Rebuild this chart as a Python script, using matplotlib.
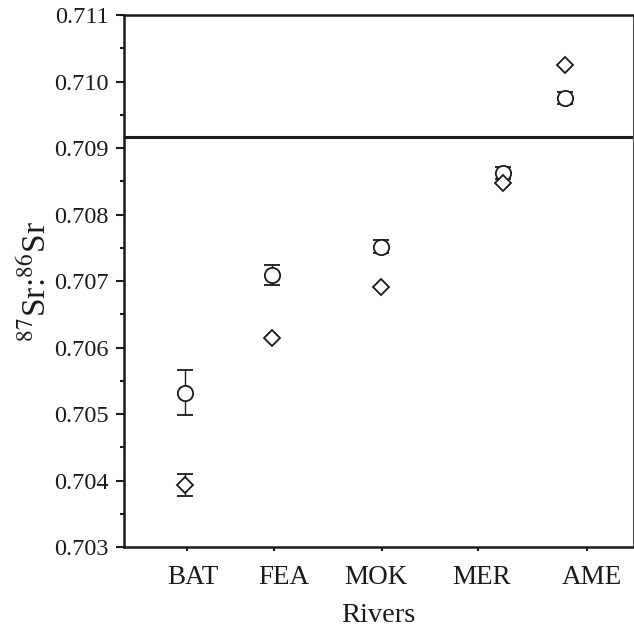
import matplotlib
matplotlib.use("Agg")
import matplotlib.pyplot as plt
from matplotlib.ticker import MultipleLocator, FixedLocator, NullFormatter

plt.rcParams['font.family'] = ['Liberation Serif', 'DejaVu Serif']
plt.rcParams['mathtext.fontset'] = 'stix'

rivers = ['BAT', 'FEA', 'MOK', 'MER', 'AME']
x_points = [0.61, 1.48, 2.57, 3.79, 4.41]
x_tickmarks = [0.63, 1.50, 2.58, 3.54, 4.63]
x_labelpos = [0.69, 1.60, 2.52, 3.58, 4.68]

circle_vals = [0.70532, 0.70709, 0.70752, 0.70863, 0.70976]
circle_err = [0.00034, 0.00015, 0.00010, 0.00009, 0.00009]
diamond_vals = [0.70393, 0.70615, 0.70691, 0.70847, 0.71025]
diamond_err = [0.00017, 0.0, 0.0, 0.0, 0.0]
seawater = 0.70917

fig = plt.figure(figsize=(6.34, 6.30), dpi=100)
ax = fig.add_axes([0.1956, 0.1317, 0.8028, 0.8443])

ax.errorbar(x_points, circle_vals, yerr=circle_err, fmt='o', mfc='white',
            mec='#1a1a1a', mew=1.3, ms=11, ecolor='#1a1a1a', elinewidth=1.0,
            capsize=6, capthick=1.0, zorder=3)
ax.errorbar(x_points, diamond_vals, yerr=diamond_err, fmt='D', mfc='white',
            mec='#1a1a1a', mew=1.3, ms=8.5, ecolor='#1a1a1a', elinewidth=1.0,
            capsize=6, capthick=1.0, zorder=3)

ax.axhline(seawater, color='#1a1a1a', lw=2.2, zorder=2)

ax.set_xlim(0, 5.09)
ax.set_ylim(0.703, 0.711)

ax.yaxis.set_major_locator(MultipleLocator(0.001))
ax.yaxis.set_minor_locator(MultipleLocator(0.0005))
ax.yaxis.set_major_formatter(matplotlib.ticker.FormatStrFormatter('%.3f'))
ax.tick_params(axis='y', which='major', direction='out', length=6, width=1.5,
               labelsize=17.5, pad=5, colors='#1a1a1a')
ax.tick_params(axis='y', which='minor', direction='out', length=3, width=1.5,
               colors='#1a1a1a')

ax.xaxis.set_major_locator(FixedLocator(x_labelpos))
ax.set_xticklabels(rivers)
ax.xaxis.set_minor_locator(FixedLocator(x_tickmarks))
ax.xaxis.set_minor_formatter(NullFormatter())
ax.tick_params(axis='x', which='major', length=0, labelsize=19.5, pad=13,
               colors='#1a1a1a')
ax.tick_params(axis='x', which='minor', direction='out', length=3, width=1.5,
               colors='#1a1a1a')

for s in ['left', 'bottom', 'top']:
    ax.spines[s].set_linewidth(1.8)
    ax.spines[s].set_color('#1a1a1a')
ax.spines['right'].set_linewidth(0.8)
ax.spines['right'].set_color('#555555')

ax.set_xlabel('Rivers', fontsize=20.5, labelpad=9, color='#1a1a1a')
ax.set_ylabel(r'$^{87}$Sr:$^{86}$Sr', fontsize=24, color='#1a1a1a')
ax.yaxis.set_label_coords(-0.14, 0.5)

fig.savefig('out.png', dpi=100)
